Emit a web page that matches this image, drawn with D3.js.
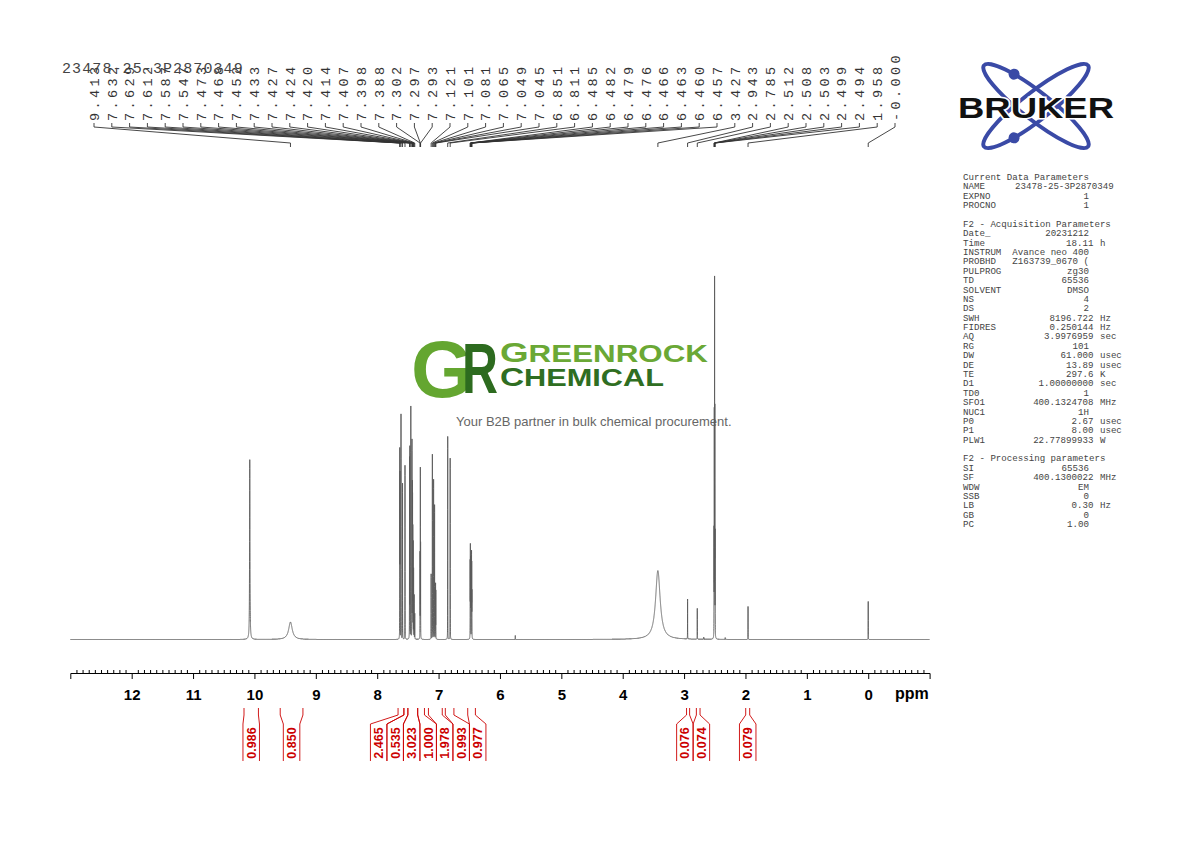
<!DOCTYPE html>
<html>
<head>
<meta charset="utf-8">
<script src="https://cdn.jsdelivr.net/npm/d3@7/dist/d3.min.js"></script>
<style>
body{margin:0;background:#fff}
svg{display:block}
text{font-family:"Liberation Sans",Arial,sans-serif}
text.mono,.mono text{font-family:"Liberation Mono","DejaVu Sans Mono",monospace}
</style>
</head>
<body>
<svg width="1190" height="842"></svg>
<script>
// sharp lines: shift in ppm, height in % of the solvent line
const sharpPpm = [7.632,7.629,7.612,7.587,7.547,7.473,7.468,7.452,7.433,7.427,7.424,7.420,7.414,7.407,7.398,7.388,
  7.302,7.297,7.293,7.121,7.101,7.081,7.065,7.049,7.045,6.851,6.811,
  6.485,6.482,6.479,6.476,6.466,6.463,6.460,6.457,5.750,
  2.943,2.785,2.680,2.512,2.508,2.503,2.499,2.494,2.330,1.958,0.000]
const sharpHeight = [50,43,62,43,48,49,52,64,54,40,36,29,26,19,12,7,
  23,46,25,18,51,44,37,15,13,56,50,
  20,23.5,20,14,15,22,19,12,1.1,
  11,8.5,0.6,28,60,96,60,28,0.5,9.1,10.5]
const sharpWidth = 0.0008
// broad lines (exchangeable H, water)
const broadPpm = [10.076,9.413,3.427]
const broadHeight = [49.6,4.8,19]
const broadWidth = [0.0035,0.035,0.045]

const peakLabels = ["9.413","7.632","7.629","7.612","7.587","7.547","7.473","7.468","7.452","7.433","7.427","7.424",
  "7.420","7.414","7.407","7.398","7.388","7.302","7.297","7.293","7.121","7.101","7.081","7.065","7.049","7.045",
  "6.851","6.811","6.485","6.482","6.479","6.476","6.466","6.463","6.460","6.457","3.427","2.943","2.785",
  "2.512","2.508","2.503","2.499","2.494","1.958","-0.000"]

const integralStart = [10.17,9.58,7.66,7.565,7.50,7.34,7.165,6.89,6.525,2.96,2.80,1.996]
const integralEnd   = [9.935,9.21,7.565,7.50,7.34,7.23,6.94,6.75,6.40,2.91,2.74,1.931]
const integralValue = ["0.986","0.850","2.465","0.535","3.023","1.000","1.978","0.993","0.977","0.076","0.074","0.079"]

const axisTicks = [12,11,10,9,8,7,6,5,4,3,2,1,0]

const params = [
  ["Current Data Parameters"],
  ["NAME","23478-25-3P2870349"],
  ["EXPNO","1"],
  ["PROCNO","1"],
  [],
  ["F2 - Acquisition Parameters"],
  ["Date_","20231212"],
  ["Time","18.11","h"],
  ["INSTRUM","Avance neo 400"],
  ["PROBHD","Z163739_0670 ("],
  ["PULPROG","zg30"],
  ["TD","65536"],
  ["SOLVENT","DMSO"],
  ["NS","4"],
  ["DS","2"],
  ["SWH","8196.722","Hz"],
  ["FIDRES","0.250144","Hz"],
  ["AQ","3.9976959","sec"],
  ["RG","101"],
  ["DW","61.000","usec"],
  ["DE","13.89","usec"],
  ["TE","297.6","K"],
  ["D1","1.00000000","sec"],
  ["TD0","1"],
  ["SFO1","400.1324708","MHz"],
  ["NUC1","1H"],
  ["P0","2.67","usec"],
  ["P1","8.00","usec"],
  ["PLW1","22.77899933","W"],
  [],
  ["F2 - Processing parameters"],
  ["SI","65536"],
  ["SF","400.1300022","MHz"],
  ["WDW","EM"],
  ["SSB","0"],
  ["LB","0.30","Hz"],
  ["GB","0"],
  ["PC","1.00"]
]

const svg = d3.select("svg")
const x = d3.scaleLinear().domain([13,-1]).range([70.3,929.6])
const y = d3.scaleLinear().domain([0,100]).range([639.5,277])

// watermark, under the spectrum
const wm = svg.append("g")
wm.append("text").attr("x",411).attr("y",397).attr("font-size",80).attr("font-weight","bold")
  .attr("fill","#64a630").text("G")
wm.append("text").attr("x",462).attr("y",393).attr("font-size",70).attr("font-weight","bold")
  .attr("fill","#2d6b1f").attr("textLength",36).attr("lengthAdjust","spacingAndGlyphs").text("R")
const t1 = wm.append("text").attr("x",500).attr("y",362).attr("fill","#6aa835").attr("font-weight","bold")
  .attr("textLength",208).attr("lengthAdjust","spacingAndGlyphs")
t1.append("tspan").attr("font-size",27).text("G")
t1.append("tspan").attr("font-size",23).text("REENROCK")
const t2 = wm.append("text").attr("x",500).attr("y",386).attr("fill","#2f6e22").attr("font-weight","bold")
  .attr("textLength",164).attr("lengthAdjust","spacingAndGlyphs")
t2.append("tspan").attr("font-size",25).text("C")
t2.append("tspan").attr("font-size",23).text("HEMICAL")
wm.append("text").attr("x",456).attr("y",426).attr("font-size",13).attr("fill","#666")
  .text("Your B2B partner in bulk chemical procurement.")

// spectrum as a sum of Lorentzian lines
const lines = sharpPpm.map((p,i)=>({p,h:sharpHeight[i],w:sharpWidth}))
  .concat(broadPpm.map((p,i)=>({p,h:broadHeight[i],w:broadWidth[i]})))
function intensity(d){
  let s=0
  for(const l of lines){const u=(d-l.p)/l.w; s+=l.h/(1+u*u)}
  return s
}
const grid = d3.range(13,-1,-0.0004).concat(lines.map(l=>l.p)).sort((a,b)=>b-a)
svg.append("path")
  .datum(grid.map(d=>[d,intensity(d)]))
  .attr("fill","none").attr("stroke","#5a5a5a").attr("stroke-width",0.9)
  .attr("d",d3.line().x(d=>x(d[0])).y(d=>y(d[1])))

// x axis
const ax = svg.append("g").attr("transform","translate(0,673)")
  .call(d3.axisBottom(x).tickValues(axisTicks).tickSize(6).tickSizeOuter(6).tickPadding(10).tickFormat(d3.format("d")))
ax.selectAll("text").attr("font-size",15).attr("font-weight","bold").attr("fill","#000")
  .attr("font-family","'Liberation Sans',Arial,sans-serif")
const minor = d3.range(-9,130).filter(v=>v%10!==0).map(v=>v/10)
svg.append("g").attr("transform","translate(0,673)")
  .call(d3.axisTop(x).tickValues(minor).tickSize(3).tickFormat(""))
  .call(g=>g.select(".domain").remove())
svg.append("text").attr("x",895).attr("y",699).attr("font-size",16).attr("font-weight","bold").text("ppm")

// peak list on top
const lx = d3.scalePoint().domain(d3.range(peakLabels.length)).range([94,895])
const pl = svg.append("g")
pl.selectAll("text").data(peakLabels).join("text")
  .attr("class","mono").attr("font-size",13.5).attr("letter-spacing",3.4).attr("fill","#333")
  .attr("transform",(d,i)=>`translate(${lx(i)},121) rotate(-90)`).attr("dy","0.35em").text(d=>d)
pl.selectAll("path").data(peakLabels).join("path")
  .attr("fill","none").attr("stroke","#333").attr("stroke-width",0.9)
  .attr("d",(d,i)=>`M${lx(i)},123V127L${x(+d)},143V147`)

svg.append("text").attr("class","mono").attr("x",62).attr("y",73).attr("font-size",15)
  .attr("letter-spacing",1.1).attr("fill","#444").text("23478-25-3P2870349")

// integrals: labels centred under their range, crowded ones spread apart
const boxW = 16.5
const mids = integralStart.map((s,i)=>(x(s)+x(integralEnd[i]))/2)
let groups = mids.map((m,i)=>({idx:[i],c:m}))
let merged = true
while(merged){
  merged=false
  for(let k=0;k<groups.length-1;k++){
    const a=groups[k], b=groups[k+1]
    if(a.c+a.idx.length*boxW/2 > b.c-b.idx.length*boxW/2){
      const idx=a.idx.concat(b.idx)
      groups.splice(k,2,{idx,c:d3.mean(idx,i=>mids[i])})
      merged=true; break
    }
  }
}
const cen = []
groups.forEach(g=>g.idx.forEach((i,j)=>{cen[i]=g.c+(j-(g.idx.length-1)/2)*boxW}))
const ig = svg.append("g").attr("stroke","#cc0000").attr("fill","none").attr("stroke-width",0.9)
integralValue.forEach((v,i)=>{
  const l=x(integralStart[i]), r=x(integralEnd[i]), c=cen[i]
  ig.append("path").attr("d",`M${l},708V715L${c-boxW/2},724V761M${r},708V715L${c+boxW/2},724V761`)
})
svg.append("g").selectAll("text").data(integralValue).join("text")
  .attr("transform",(d,i)=>`translate(${cen[i]},743) rotate(-90)`)
  .attr("text-anchor","middle").attr("dy","0.36em").attr("font-size",12.5).attr("font-weight","bold")
  .attr("fill","#cc0000").text(d=>d)

// Bruker logo
const lg = svg.append("g")
;[38,-38].forEach(a=>{
  const g = lg.append("g").attr("transform",`translate(1036,106) rotate(${a})`)
  g.append("ellipse").attr("rx",66).attr("ry",14).attr("fill","none").attr("stroke","#3a4aa6").attr("stroke-width",4)
  const t = a>0 ? 236*Math.PI/180 : 124*Math.PI/180
  g.append("circle").attr("cx",66*Math.cos(t)).attr("cy",14*Math.sin(t)).attr("r",5.5).attr("fill","#3a4aa6")
})
lg.append("text").attr("x",958).attr("y",118).attr("font-size",30).attr("font-weight","900")
  .attr("textLength",156).attr("lengthAdjust","spacingAndGlyphs")
  .attr("fill","#111").attr("stroke","#fff").attr("stroke-width",3).attr("paint-order","stroke").text("BRUKER")

// parameter panel
const cw = 9.13*0.6, px0 = 963
const pp = svg.append("g").attr("class","mono").attr("font-size",9.13).attr("fill","#444")
params.forEach((r,i)=>{
  if(!r.length) return
  const yy = 180+i*9.38
  pp.append("text").attr("x",px0).attr("y",yy).text(r[0])
  if(r.length<2) return
  if(r[0]==="NAME") pp.append("text").attr("x",px0+27.5*cw).attr("y",yy).attr("text-anchor","end").text(r[1])
  else if(r[0]==="PROBHD") pp.append("text").attr("x",px0+9*cw).attr("y",yy).text(r[1])
  else if(r.length===3){
    pp.append("text").attr("x",px0+23.8*cw).attr("y",yy).attr("text-anchor","end").text(r[1])
    pp.append("text").attr("x",px0+25*cw).attr("y",yy).text(r[2])
  } else pp.append("text").attr("x",px0+23*cw).attr("y",yy).attr("text-anchor","end").text(r[1])
})
</script>
</body>
</html>
